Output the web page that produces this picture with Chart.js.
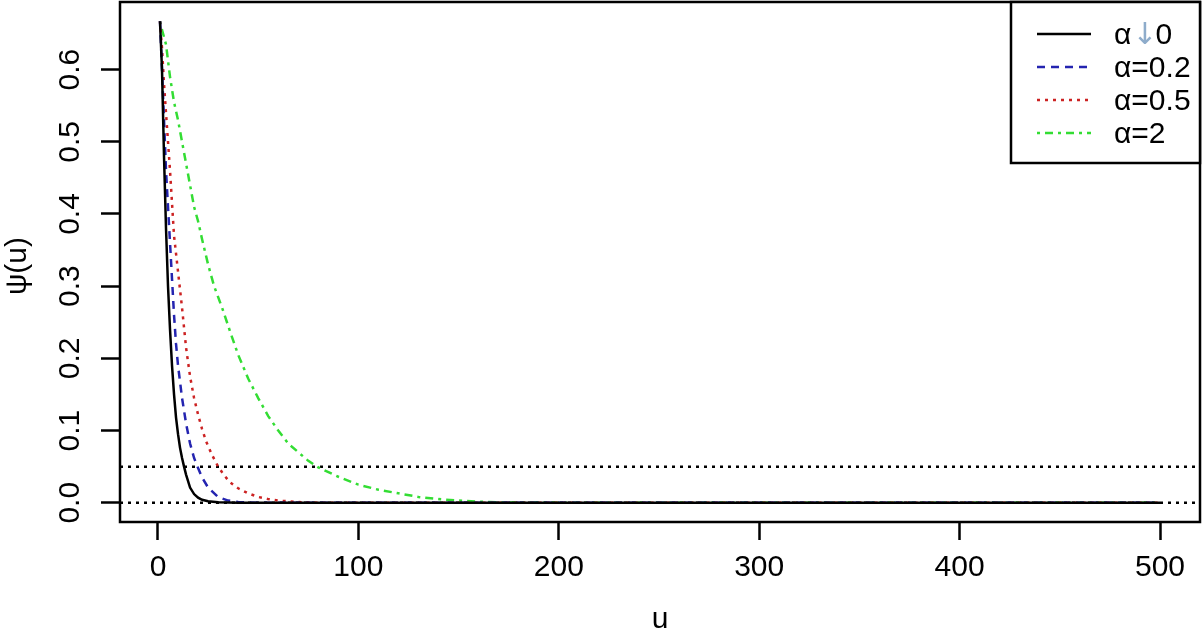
<!DOCTYPE html>
<html>
<head>
<meta charset="utf-8">
<script src="https://cdn.jsdelivr.net/npm/chart.js@4/dist/chart.umd.min.js"></script>
<style>
  html, body { margin: 0; padding: 0; background: #fff; }
  #wrap { width: 1203px; height: 636px; }
</style>
</head>
<body>
<div id="wrap"><canvas id="ruin-chart" width="1203" height="636"></canvas></div>
<script>
/* ---------------------------------------------------------------- */
/* data                                        */
/* ---------------------------------------------------------------- */
const uBlack   = [1, 2, 3, 4, 5, 6, 7, 8, 9, 10, 11, 12, 13, 14, 16, 18, 20, 22, 25, 30, 40, 500];
const psiBlack = [0.667, 0.60, 0.48, 0.38, 0.30, 0.24, 0.19, 0.15, 0.118, 0.095, 0.076, 0.062, 0.05, 0.039, 0.021, 0.012, 0.007, 0.004, 0.002, 0.0005, 0, 0];

const uBlue   = [1, 2, 3, 4, 5, 6, 7, 8, 9, 10, 12, 14, 16, 18, 20, 22, 25, 30, 35, 40, 50, 500];
const psiBlue = [0.667, 0.60, 0.53, 0.46, 0.41, 0.36, 0.31, 0.26, 0.22, 0.19, 0.145, 0.11, 0.082, 0.062, 0.048, 0.035, 0.021, 0.008, 0.003, 0.001, 0, 0];

const uRed   = [1, 2, 3, 4, 6, 8, 10, 12, 14, 16, 18, 20, 22, 24, 27, 30, 33, 36, 40, 45, 50, 55, 60, 70, 80, 500];
const psiRed = [0.667, 0.63, 0.58, 0.54, 0.46, 0.37, 0.32, 0.27, 0.215, 0.175, 0.145, 0.122, 0.102, 0.085, 0.066, 0.05, 0.038, 0.028, 0.02, 0.013, 0.008, 0.005, 0.003, 0.001, 0, 0];

const uGreen   = [1, 2, 4, 6, 8, 10, 12, 14, 16, 18, 20, 22, 25, 28, 32, 36, 40, 45, 50, 55, 60, 65, 70, 75, 80, 90, 100, 110, 120, 130, 140, 150, 160, 170, 200, 500];
const psiGreen = [0.667, 0.655, 0.635, 0.59, 0.555, 0.53, 0.50, 0.47, 0.44, 0.41, 0.39, 0.365, 0.33, 0.30, 0.27, 0.237, 0.205, 0.172, 0.145, 0.12, 0.10, 0.082, 0.07, 0.058, 0.049, 0.036, 0.025, 0.018, 0.013, 0.008, 0.005, 0.003, 0.0015, 0.0005, 0, 0];

const refLevels = [0.05, 0];

const xTicks = [0, 100, 200, 300, 400, 500];
const yTicks = [0, 0.1, 0.2, 0.3, 0.4, 0.5, 0.6];
const yTickLabels = ['0.0', '0.1', '0.2', '0.3', '0.4', '0.5', '0.6'];

const seriesNames = ['α', 'α=0.2', 'α=0.5', 'α=2'];

// R-style axis limits (4% extension)
const xMin = -18.96, xMax = 519.96;
const yMin = -0.0267, yMax = 0.6937;

const FONT = '"Liberation Sans", Arial, sans-serif';

function pts(xs, ys) {
    return xs.map((x, i) => ({ x: x, y: ys[i] }));
}

const curves = [
    { label: seriesNames[0], data: pts(uBlack, psiBlack), borderColor: '#000000', borderDash: [] },
    { label: seriesNames[1], data: pts(uBlue, psiBlue), borderColor: '#2424b0', borderDash: [8, 6] },
    { label: seriesNames[2], data: pts(uRed, psiRed), borderColor: '#cc2222', borderDash: [3, 5] },
    { label: seriesNames[3], data: pts(uGreen, psiGreen), borderColor: '#33dd33', borderDash: [3, 5, 8, 5] }
];

const refLines = refLevels.map(v => ({
    label: 'ref',
    data: [{ x: xMin, y: v }, { x: xMax, y: v }],
    borderColor: '#000000',
    borderDash: [3, 5]
}));

/* ---------------------------------------------------------------- */
/* box, y labels, axis titles, legend                               */
/* ---------------------------------------------------------------- */
const rDecor = {
    id: 'rDecor',
    afterDraw(chart) {
        const ctx = chart.ctx;
        const a = chart.chartArea;
        const ys = chart.scales.y;

        ctx.save();
        ctx.strokeStyle = '#000';
        ctx.lineWidth = 2.5;
        ctx.setLineDash([]);
        ctx.strokeRect(a.left, a.top, a.right - a.left, a.bottom - a.top);

        // rotated y tick labels
        ctx.fillStyle = '#000';
        ctx.font = '30px ' + FONT;
        ctx.textAlign = 'center';
        ctx.textBaseline = 'middle';
        yTicks.forEach((v, i) => {
            ctx.save();
            ctx.translate(71, ys.getPixelForValue(v));
            ctx.rotate(-Math.PI / 2);
            ctx.fillText(yTickLabels[i], 0, 0);
            ctx.restore();
        });

        // axis titles
        ctx.save();
        ctx.translate(18, (a.top + a.bottom) / 2 + 4);
        ctx.rotate(-Math.PI / 2);
        ctx.fillText('ψ(u)', 0, 0);
        ctx.restore();
        ctx.fillText('u', (a.left + a.right) / 2, 620);

        // legend (top right, inside the box)
        const lx = 1011, ly = a.top, lw = a.right - lx, lh = 161;
        ctx.fillStyle = '#fff';
        ctx.fillRect(lx, ly, lw, lh);
        ctx.strokeRect(lx, ly, lw, lh);
        const rowY = [34, 67, 100, 133];
        curves.forEach((c, i) => {
            ctx.strokeStyle = c.borderColor;
            ctx.lineWidth = 2.5;
            ctx.setLineDash(c.borderDash);
            ctx.beginPath();
            ctx.moveTo(1037, rowY[i]);
            ctx.lineTo(1091, rowY[i]);
            ctx.stroke();
            ctx.setLineDash([]);
            ctx.textAlign = 'left';
            ctx.fillStyle = '#000';
            ctx.font = '30px ' + FONT;
            if (i === 0) {
                let x = 1114;
                ctx.fillText('α', x, rowY[i] + 2);
                x += ctx.measureText('α').width + 1;
                ctx.font = '30px "DejaVu Sans"';
                ctx.fillStyle = '#8eaccb';
                ctx.fillText('↓', x, rowY[i] + 2);
                x += ctx.measureText('↓').width - 2;
                ctx.font = '30px ' + FONT;
                ctx.fillStyle = '#000';
                ctx.fillText('0', x, rowY[i] + 2);
            } else {
                ctx.fillText(c.label, 1114, rowY[i] + 2);
            }
        });
        ctx.restore();
    }
};

const ctx = document.getElementById('ruin-chart');

new Chart(ctx, {
    type: 'line',
    data: {
        datasets: curves.concat(refLines).map(d => Object.assign({
            borderWidth: 2.5,
            pointRadius: 0,
            tension: 0,
            fill: false
        }, d))
    },
    options: {
        responsive: false,
        animation: false,
        events: [],
        layout: { padding: { top: 2, right: 3, left: 0, bottom: 0 } },
        plugins: {
            legend: { display: false },
            tooltip: { enabled: false }
        },
        scales: {
            x: {
                type: 'linear',
                min: xMin,
                max: xMax,
                afterBuildTicks: s => { s.ticks = xTicks.map(v => ({ value: v })); },
                afterFit: s => { s.height = 114; },
                border: { display: false },
                grid: {
                    drawOnChartArea: false,
                    drawTicks: true,
                    tickLength: 18,
                    tickWidth: 2.5,
                    tickColor: '#000'
                },
                ticks: {
                    color: '#000',
                    font: { family: FONT, size: 30 },
                    padding: 10,
                    maxRotation: 0,
                    autoSkip: false
                }
            },
            y: {
                type: 'linear',
                min: yMin,
                max: yMax,
                afterBuildTicks: s => { s.ticks = yTicks.map(v => ({ value: v })); },
                afterFit: s => { s.width = 120; },
                border: { display: false },
                grid: {
                    drawOnChartArea: false,
                    drawTicks: true,
                    tickLength: 19,
                    tickWidth: 2.5,
                    tickColor: '#000'
                },
                ticks: { display: false }
            }
        }
    },
    plugins: [rDecor]
});
</script>
</body>
</html>
